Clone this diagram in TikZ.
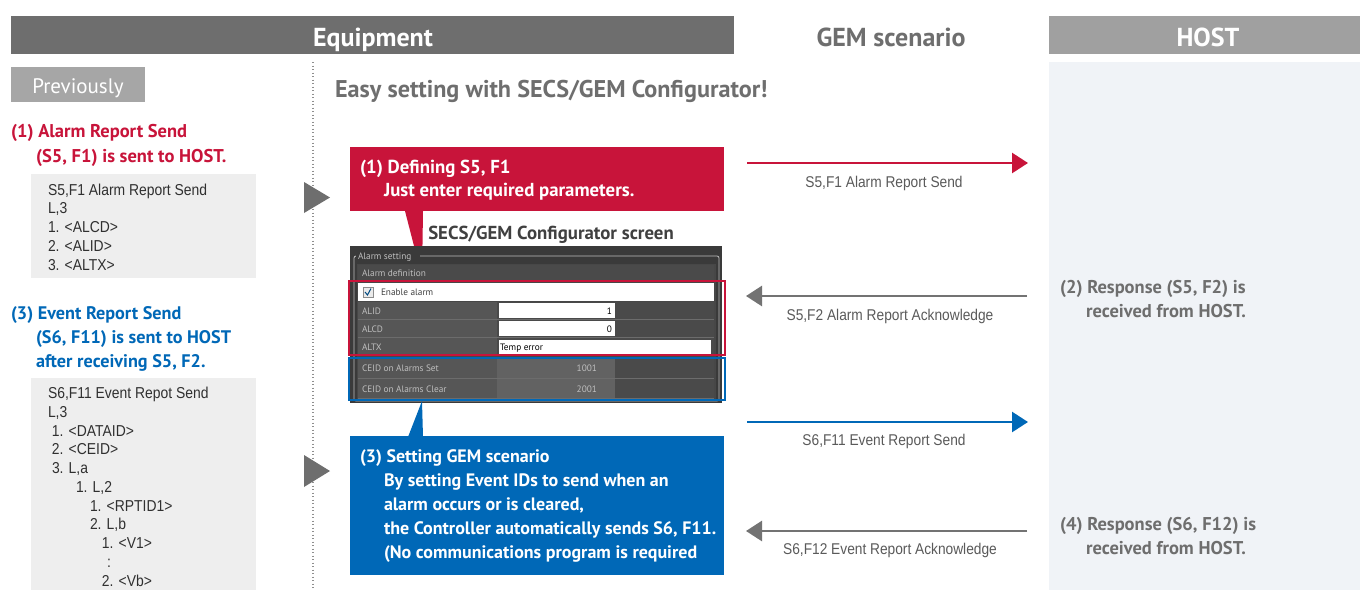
\documentclass[tikz,border=0pt]{standalone}
\usepackage{fontspec}
\setmainfont{PT Sans}
\newfontfamily\narrow[FakeStretch=0.88]{Liberation Sans}
\usetikzlibrary{arrows.meta}
\definecolor{hdrdark}{HTML}{6E6E6E}
\definecolor{hdrlight}{HTML}{A0A0A0}
\definecolor{prevgray}{HTML}{A6A6A6}
\definecolor{hostbg}{HTML}{F0F3F7}
\definecolor{listbg}{HTML}{EEEEEE}
\definecolor{alarmred}{HTML}{C8143A}
\definecolor{eventblue}{HTML}{0068B7}
\definecolor{arrowgray}{HTML}{737373}
\definecolor{txtgray}{HTML}{6E6E6E}
\definecolor{lbgray}{HTML}{5A5A5A}
\definecolor{listtxt}{HTML}{303030}
\definecolor{scrdark}{HTML}{3A3A3A}
\definecolor{scrpanel}{HTML}{474747}
\definecolor{scrlabel}{HTML}{565656}
\definecolor{scrvalue}{HTML}{4A4A4A}
\definecolor{scrline}{HTML}{6C6C6C}
\definecolor{scrtxt}{HTML}{BEBEBE}
\begin{document}
\begin{tikzpicture}[x=1pt,y=-1pt,
  every node/.style={inner sep=0pt,outer sep=0pt},
  hdrtxt/.style={anchor=base,text=white,font=\fontsize{26}{30}\selectfont\bfseries},
  boldtxt/.style={anchor=base west,align=left,font=\fontsize{18.5}{24}\selectfont\bfseries},
  listtext/.style={anchor=base west,align=left,text=listtxt,font=\narrow\fontsize{15.8}{18.75}\selectfont},
  arrowlabel/.style={anchor=base,text=lbgray,font=\narrow\fontsize{15.6}{18}\selectfont},
  sendarrow/.style={line width=2.7pt,-{Triangle[length=16pt,width=20pt]}},
  playtri/.style={fill=hdrdark},
  scrsmall/.style={anchor=base west,text=scrtxt,font=\fontsize{9.3}{11}\selectfont},
]
\useasboundingbox (0,0) rectangle (1360,590);
\fill[white] (0,0) rectangle (1360,590);

% ---------- headers ----------
\fill[hdrdark] (11,16) rectangle (734,54);
\node[hdrtxt] (equip) at (373,46) {Equipment};
\node[hdrtxt,text=txtgray] (gem) at (891,46.5) {GEM scenario};
\fill[hdrlight] (1049,16) rectangle (1360,54);
\node[hdrtxt] (host) at (1208,46) {HOST};
\fill[hostbg] (1049,62) rectangle (1360,590);

% ---------- left column ----------
\fill[prevgray] (11,67) rectangle (145,102);
\node[anchor=base,text=white,font=\fontsize{21}{24}\selectfont] (prev) at (78,93.5) {Previously};
\draw[arrowgray!80,line width=1.3pt,dash pattern=on 1.3pt off 2.2pt] (313,62) -- (313,590);

% last-line baselines are given (multi-line nodes sit on their last line)
\node[boldtxt,text=alarmred,font=\fontsize{18.5}{24.5}\selectfont\bfseries] (alarmtitle) at (11,162)
  {(1) Alarm Report Send\\\hspace*{25pt}(S5, F1) is sent to HOST.};
\node[fill=listbg,minimum width=225pt,minimum height=104pt,anchor=north west] (list1) at (31,174) {};
\node[listtext] (list1txt) at (48,270)
  {S5,F1 Alarm Report Send\\L,3\\1. <ALCD>\\2. <ALID>\\3. <ALTX>};

\node[boldtxt,text=eventblue,font=\fontsize{18.2}{24}\selectfont\bfseries] (eventtitle) at (11,367.5)
  {(3) Event Report Send\\\hspace*{25pt}(S6, F11) is sent to HOST\\\hspace*{25pt}after receiving S5, F2.};
\node[fill=listbg,minimum width=225pt,minimum height=212pt,anchor=north west] (list2) at (31,378) {};
\node[listtext] (list2txt) at (48,586)
  {S6,F11 Event Repot Send\\L,3\\
   \hspace*{4pt}1. <DATAID>\\\hspace*{4pt}2. <CEID>\\\hspace*{4pt}3. L,a\\
   \hspace*{28pt}1. L,2\\\hspace*{42pt}1. <RPTID1>\\\hspace*{42pt}2. L,b\\
   \hspace*{54pt}1. <V1>\\\hspace*{59pt}:\\\hspace*{54pt}2. <Vb>};

\fill[playtri] (304,182) -- (330,197.5) -- (304,213) -- cycle;
\fill[playtri] (304,455) -- (330,471) -- (304,487) -- cycle;

% ---------- middle column ----------
\node[anchor=base west,text=txtgray,font=\fontsize{24.2}{27}\selectfont\bfseries] (easy) at (335,97)
  {Easy setting with SECS/GEM Configurator!};

% red callout
\fill[alarmred] (405,211) -- (423,211) -- (422,277) -- cycle;
\node[fill=alarmred,minimum width=374pt,minimum height=64pt,anchor=north west] (redbox) at (350,147) {};
\node[boldtxt,text=white,font=\fontsize{18.8}{23}\selectfont\bfseries] (redtxt) at (360,196.5)
  {(1) Defining S5, F1\\\hspace*{24pt}Just enter required parameters.};

\node[anchor=base,text=black!75,font=\fontsize{18.8}{22}\selectfont\bfseries] (scrcap) at (551,239.5)
  {SECS/GEM Configurator screen};

% configurator screenshot
\fill[scrdark] (350,246) rectangle (722,403);
\draw[scrtxt,line width=0.8pt,rounded corners=2pt] (354,256) rectangle (719,401);
\fill[scrdark] (356,250) rectangle (420,261);
\node[scrsmall] (scrtitle) at (358,259.5) {Alarm setting};
\fill[scrpanel] (357,264) rectangle (716,399);
\fill[scrvalue] (358,265) rectangle (714,281);
\node[scrsmall] (scrdef) at (362,276.5) {Alarm definition};
\fill[white] (358,283) rectangle (714,301);
\draw[black!45,fill=black!8] (363,287) rectangle (373,297);
\draw[eventblue!70!black,line width=1pt] (365,292) -- (367.5,295) -- (371,288.5);
\node[scrsmall,text=black!75] (screnable) at (381,295.5) {Enable alarm};
\foreach \ya/\yb in {302/319,320/337,338/355,358/378,379/398}{
  \fill[scrlabel] (358,\ya) rectangle (497,\yb);
  \fill[scrvalue] (497,\ya) rectangle (714,\yb);
  \draw[scrline,line width=0.6pt] (358,\yb) -- (714,\yb);
}
\fill[scrlabel!93!white] (497,358) rectangle (615,378);
\fill[scrlabel!93!white] (497,379) rectangle (615,398);
\node[scrsmall] (lalid) at (362,314.5) {ALID};
\node[scrsmall] (lalcd) at (362,332.5) {ALCD};
\node[scrsmall] (laltx) at (362,350.5) {ALTX};
\node[scrsmall] (lceid1) at (362,371.5) {CEID on Alarms Set};
\node[scrsmall] (lceid2) at (362,392.5) {CEID on Alarms Clear};
\fill[white] (499,303) rectangle (615,318);
\fill[white] (499,321) rectangle (615,336);
\fill[white] (499,340) rectangle (711,354);
\node[scrsmall,text=black,anchor=base east] (valid) at (612,314.5) {1};
\node[scrsmall,text=black,anchor=base east] (valcd) at (612,332.5) {0};
\node[scrsmall,text=black] (valtx) at (500,350.5) {Temp error};
\node[scrsmall,anchor=base east] (vceid1) at (597,371.5) {1001};
\node[scrsmall,anchor=base east] (vceid2) at (597,392.5) {2001};
\draw[alarmred,line width=2.5pt] (349,281) rectangle (725,355);
\draw[eventblue,line width=2.5pt] (349,358) rectangle (725,400);

% blue callout
\fill[eventblue] (408,437) -- (423,437) -- (422,401) -- cycle;
\node[fill=eventblue,minimum width=374pt,minimum height=139pt,anchor=north west] (bluebox) at (350,436) {};
\node[boldtxt,text=white,font=\fontsize{18}{24}\selectfont\bfseries] (bluetxt) at (360,558.5)
  {(3) Setting GEM scenario\\
   \hspace*{24pt}By setting Event IDs to send when an\\
   \hspace*{24pt}alarm occurs or is cleared,\\
   \hspace*{24pt}the Controller automatically sends S6, F11.\\
   \hspace*{24pt}(No communications program is required};

% ---------- message arrows ----------
\coordinate (m1a) at (747,163);  \coordinate (m1b) at (1028,163);
\coordinate (m2a) at (1027,296); \coordinate (m2b) at (746,296);
\coordinate (m3a) at (747,422);  \coordinate (m3b) at (1028,422);
\coordinate (m4a) at (1027,531); \coordinate (m4b) at (746,531);
\draw[sendarrow,alarmred] (m1a) -- (m1b);
\draw[sendarrow,arrowgray] (m2a) -- (m2b);
\draw[sendarrow,eventblue] (m3a) -- (m3b);
\draw[sendarrow,arrowgray] (m4a) -- (m4b);
\node[arrowlabel] (l1) at (884,187) {S5,F1 Alarm Report Send};
\node[arrowlabel] (l2) at (890,320) {S5,F2 Alarm Report Acknowledge};
\node[arrowlabel] (l3) at (884,445) {S6,F11 Event Report Send};
\node[arrowlabel] (l4) at (890,554) {S6,F12 Event Report Acknowledge};

% ---------- host responses ----------
\node[boldtxt,text=txtgray] (resp2) at (1060,317.5)
  {(2) Response (S5, F2) is\\\hspace*{26pt}received from HOST.};
\node[boldtxt,text=txtgray] (resp4) at (1060,554.5)
  {(4) Response (S6, F12) is\\\hspace*{26pt}received from HOST.};
\end{tikzpicture}
\end{document}
